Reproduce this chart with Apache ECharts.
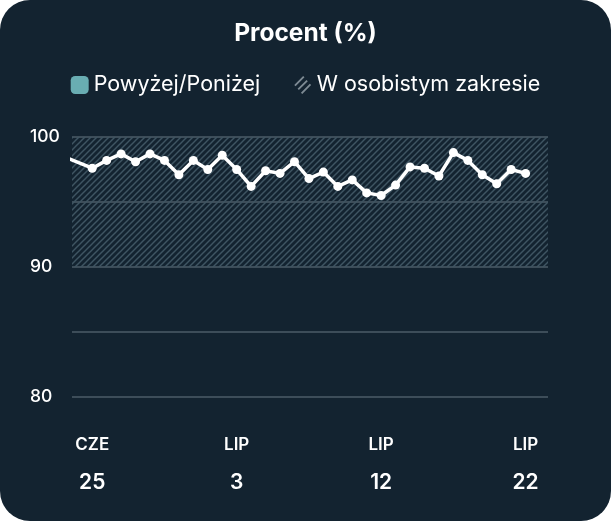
<!DOCTYPE html>
<html>
<head>
<meta charset="utf-8">
<script src="https://cdn.jsdelivr.net/npm/echarts@6/dist/echarts.min.js"></script>
<style>
  html, body { margin:0; padding:0; background:#ffffff; }
  #chart { width:611px; height:521px; background:#132330; border-radius:30px; overflow:hidden; }
</style>
</head>
<body>
<div id="chart"></div>
<script>
// wartości dzienne (%), pierwszy punkt przed zakresem jest obcięty przez siatkę
var dayIndex = [-2, 0,1,2,3,4,5,6,7,8,9,10,11,12,13,14,15,16,17,18,19,20,21,22,23,24,25,26,27,28,29,30];
var values = [98.5,
  97.6, 98.2, 98.7, 98.1, 98.7, 98.2, 97.1, 98.2, 97.5, 98.6,
  97.5, 96.2, 97.4, 97.2, 98.1, 96.8, 97.3, 96.2, 96.7, 95.7,
  95.5, 96.3, 97.7, 97.6, 97.0, 98.8, 98.2, 97.1, 96.4, 97.5, 97.2];

// etykiety osi x
var labelPos = [0, 10, 20, 30];
var labelMonth = ['CZE', 'LIP', 'LIP', 'LIP'];
var labelDay = ['25', '3', '12', '22'];

// zakres osobisty
var rangeLow = 90, rangeHigh = 100;

var FONT = 'Inter, Roboto, sans-serif';

//wzór kreskowania
function hatch(){
  var p = 6;
  var c = document.createElement('canvas');
  c.width = p; c.height = p;
  var ctx = c.getContext('2d');
  ctx.strokeStyle = '#3f5562';
  ctx.lineWidth = 1.5;
  [-p, 0, p].forEach(function(o){
    ctx.beginPath();
    ctx.moveTo(o - 1, p + 1);
    ctx.lineTo(o + p + 1, -1);
    ctx.stroke();
  });
  return c;
}

var lineData = dayIndex.map(function(d, i){ return [d, values[i]]; });

var chart = echarts.init(document.getElementById('chart'));
var option = {
  backgroundColor: 'transparent',
  animation: false,
  title: {
    text: 'Procent (%)', left: 'center', top: 16,
    textStyle: { color:'#ffffff', fontSize:24.5, fontWeight:'bold', fontFamily:FONT }
  },
  legend: {
    top: 69, left: 'center', itemWidth: 18, itemHeight: 18, itemGap: 34,
    textStyle: { color:'#ffffff', fontSize:21.5, fontFamily:FONT },
    data: [
      { name:'Powyżej/Poniżej', icon:'roundRect', itemStyle:{ color:'#7fcfd3' } },
      { name:'W osobistym zakresie',
        icon:'path://M2,12L10,4L11.2,5.2L3.2,13.2Z M5,15.5L13,7.5L14.2,8.7L6.2,16.7Z M8,19L16,11L17.2,12.2L9.2,20.2Z',
        itemStyle:{ color:'#7e8b94' } }
    ]
  },
  grid: { left:72, right:63, top:137, bottom:124 },
  xAxis: {
    type:'value', min:-1.4, max:31.55,
    axisLine:{show:false}, axisTick:{show:false}, splitLine:{show:false},
    axisLabel: {
      customValues: labelPos,
      margin: 29,
      formatter: function(v){
        var i = labelPos.indexOf(v);
        return '{m|' + labelMonth[i] + '}\n{d|' + labelDay[i] + '}';
      },
      rich: {
        m: { color:'#ffffff', fontSize:17, fontWeight:600, fontFamily:FONT, lineHeight:38 },
        d: { color:'#ffffff', fontSize:21, fontWeight:600, fontFamily:FONT, lineHeight:38 }
      }
    }
  },
  yAxis: {
    type:'value', min:80, max:100, interval:5,
    axisLine:{show:false}, axisTick:{show:false},
    splitLine:{ lineStyle:{ color:'#4c5c67', width:1.5 } },
    axisLabel: {
      align:'left', margin:42, color:'#ffffff', fontSize:17.5, fontWeight:500, fontFamily:FONT,
      formatter: function(v){ return v % 10 === 0 ? String(v) : ''; }
    }
  },
  series: [
    { name:'Powyżej/Poniżej', type:'scatter', data:[], itemStyle:{ color:'#7fcfd3' } },
    { name:'W osobistym zakresie', type:'line', data:[], silent:true,
      markArea: {
        silent:true,
        itemStyle:{ color:{ image:hatch(), repeat:'repeat' } },
        data: [[ { yAxis:rangeLow }, { yAxis:rangeHigh } ]]
      }
    },
    { name:'Procent', type:'line', data:lineData, z:5,
      symbol:'circle', symbolSize:9, showAllSymbol:true,
      itemStyle:{ color:'#ffffff' },
      lineStyle:{ color:'#ffffff', width:3.5 }
    }
  ]
};
chart.setOption(option);
</script>
</body>
</html>
